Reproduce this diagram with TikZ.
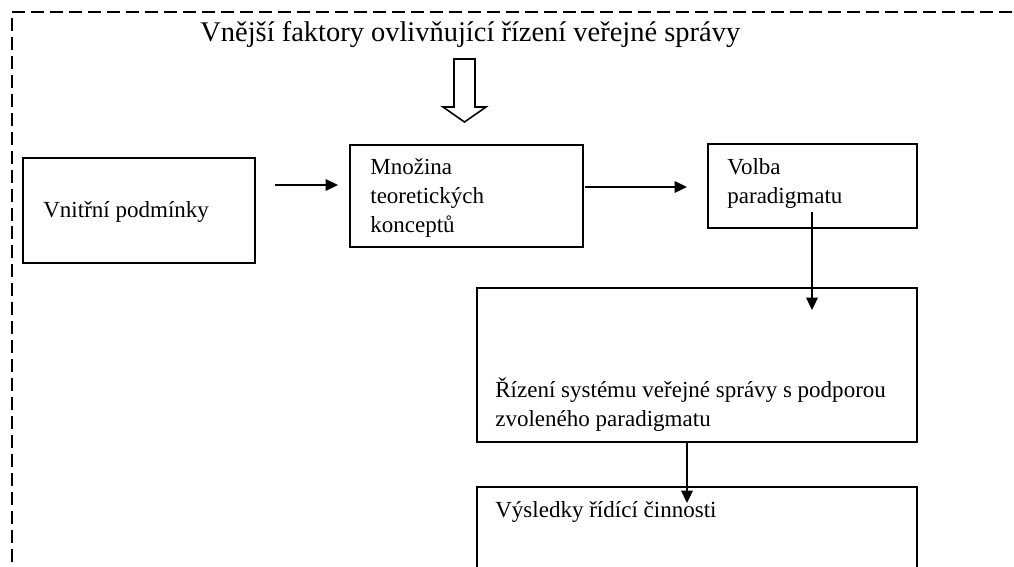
\documentclass[tikz,border=0pt]{standalone}
\usepackage{fontspec}
\setmainfont{Liberation Serif}
\usetikzlibrary{positioning,arrows.meta,calc}

\begin{document}
\begin{tikzpicture}[x=0.02cm,y=-0.02cm,
  box/.style={draw,line width=1pt,outer sep=0pt,inner sep=0pt},
  txt/.style={anchor=base west,inner sep=0pt,align=left,font=\fontsize{13.1}{16.3}\selectfont},
  arr/.style={line width=1pt,-{Triangle[length=7pt,width=6.5pt]}}]
  \clip (0,0) rectangle (1014,566);
  % outer dashed frame
  \draw[line width=1pt,dash pattern=on 7.4pt off 3.4pt] (12,600) |- (1030,12);
  \node[anchor=base west,inner sep=0pt,font=\fontsize{16.2}{19}\selectfont] (title) at (200,41) {Vnější faktory ovlivňující řízení veřejné správy};
  % hollow arrow
  \coordinate (down) at (464.5,59);
  \draw[line width=0.9pt] (down) ++(-10.5,0) -- ++(21,0) -- ++(0,48) -- ++(11,0) -- ++(-21.5,15) -- ++(-21.5,-15) -- ++(11,0) -- cycle;
  % boxes
  \node[box,minimum width=4.64cm,minimum height=2.10cm] (vnitrni) at (139,210.5) {};
  \node[box,minimum width=4.66cm,minimum height=2.04cm] (mnozina) at (466.5,196) {};
  \node[box,minimum width=4.18cm,minimum height=1.68cm] (volba) at (812.5,186) {};
  \node[box,minimum width=8.80cm,minimum height=3.08cm] (rizeni) at (697,365) {};
  \node[box,minimum width=8.80cm,minimum height=2.26cm] (vysledky) at (697,543.5) {};
  % texts (base = last line)
  \node[txt] (t1) at (43,217) {Vnitřní podmínky};
  \node[txt] (t2) at (370,232) {Množina\\teoretických\\konceptů};
  \node[txt] (t3) at (727,203) {Volba\\paradigmatu};
  \node[txt] (t4) at (495,426) {Řízení systému veřejné správy s podporou\\zvoleného paradigmatu};
  \node[txt] (t5) at (495,517) {Výsledky řídící činnosti};
  % arrows
  \draw[arr] ($(vnitrni.east)+(20,-25.5)$) -- ($(mnozina.west)+(-12,-11)$);
  \draw[arr] ($(mnozina.east)+(2,-9)$) -- ($(volba.west)+(-21,1)$);
  \draw[arr] ($(volba.south)+(-0.5,-16)$) -- ($(rizeni.north -| volba.south)+(-0.5,22)$);
  \draw[arr] ($(rizeni.south)+(-10,0)$) -- ($(vysledky.north)+(-10,16)$);
\end{tikzpicture}
\end{document}
